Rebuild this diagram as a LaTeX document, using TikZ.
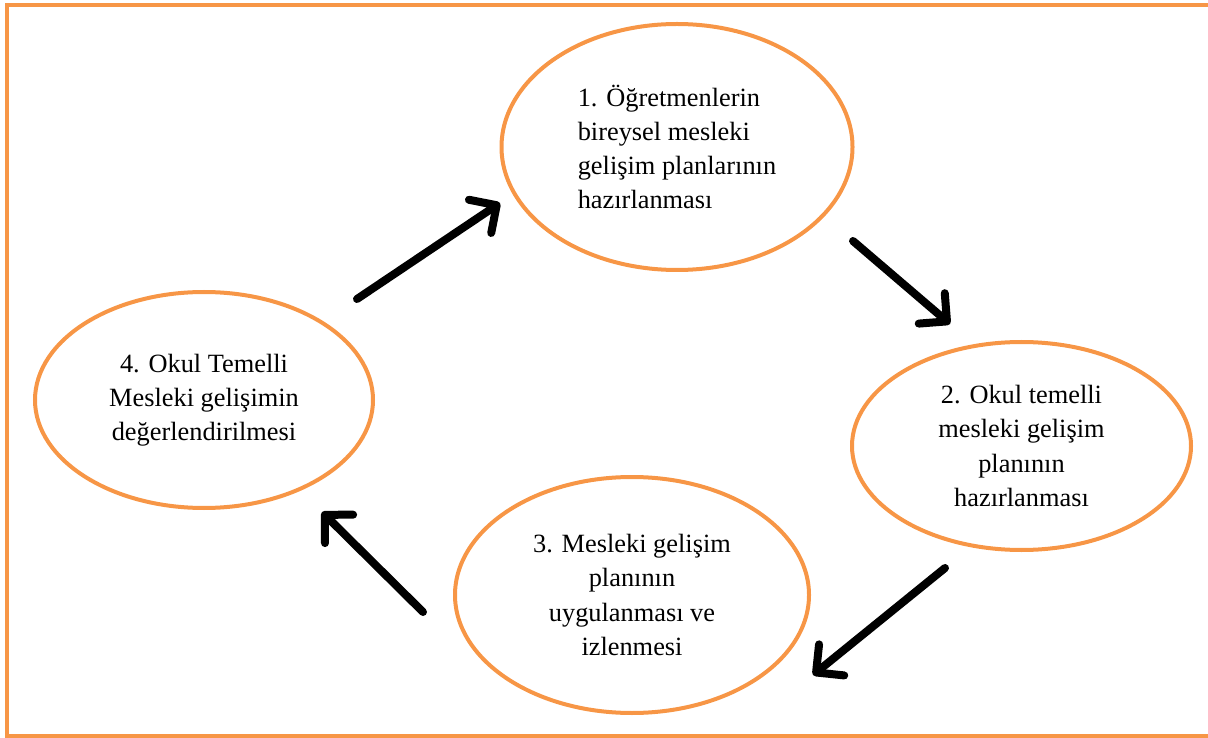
\documentclass[tikz,border=0pt]{standalone}
\usepackage{fontspec}
\setmainfont{Liberation Serif}
\usepackage{xcolor}
\usepackage{tikz}
\usetikzlibrary{shapes.geometric, arrows.meta, positioning}
\definecolor{frameorange}{HTML}{F79646}
\tikzstyle{stage} = [ellipse, draw=frameorange, line width=0.08cm, inner sep=0pt, font=\fontsize{15pt}{19.5pt}\selectfont, text centered]
\tikzstyle{arrow} = [line width=0.16cm, line cap=round, -{Straight Barb[length=0.4cm, width=0.8cm, round]}]

\begin{document}
\begin{tikzpicture}
            \useasboundingbox (0,0) rectangle (24.16,-14.76);
            % Frame
            \draw [frameorange, line width=0.08cm] (0.14,-0.1) rectangle (24.22,-14.71);

            % Nodes
            \node [stage, minimum width=7.02cm, minimum height=4.92cm, align=left] (plan_bireysel) at (13.54,-2.94) {1. Öğretmenlerin\\bireysel mesleki\\gelişim planlarının\\hazırlanması};
            \node [stage, minimum width=6.78cm, minimum height=4.16cm, align=center] (plan_okul) at (20.43,-8.92) {2. Okul temelli\\mesleki gelişim\\planının\\hazırlanması};
            \node [stage, minimum width=7.08cm, minimum height=4.72cm, align=center] (uygulama) at (12.64,-11.9) {3. Mesleki gelişim\\planının\\uygulanması ve\\izlenmesi};
            \node [stage, minimum width=6.76cm, minimum height=4.32cm, align=center] (degerlendirme) at (4.08,-8.0) {4. Okul Temelli\\Mesleki gelişimin\\değerlendirilmesi};

            % Arrow ends
            \coordinate (a1s) at (7.14,-5.98);
            \coordinate (a1e) at (10.0,-4.06);
            \coordinate (a2s) at (17.06,-4.82);
            \coordinate (a2e) at (19.0,-6.48);
            \coordinate (a3s) at (18.9,-11.36);
            \coordinate (a3e) at (16.26,-13.5);
            \coordinate (a4s) at (8.46,-12.24);
            \coordinate (a4e) at (6.44,-10.24);

            % Arrows
            \draw [arrow] (a1s) -- (a1e);
            \draw [arrow] (a2s) -- (a2e);
            \draw [arrow] (a3s) -- (a3e);
            \draw [arrow] (a4s) -- (a4e);
        \end{tikzpicture}
\end{document}
